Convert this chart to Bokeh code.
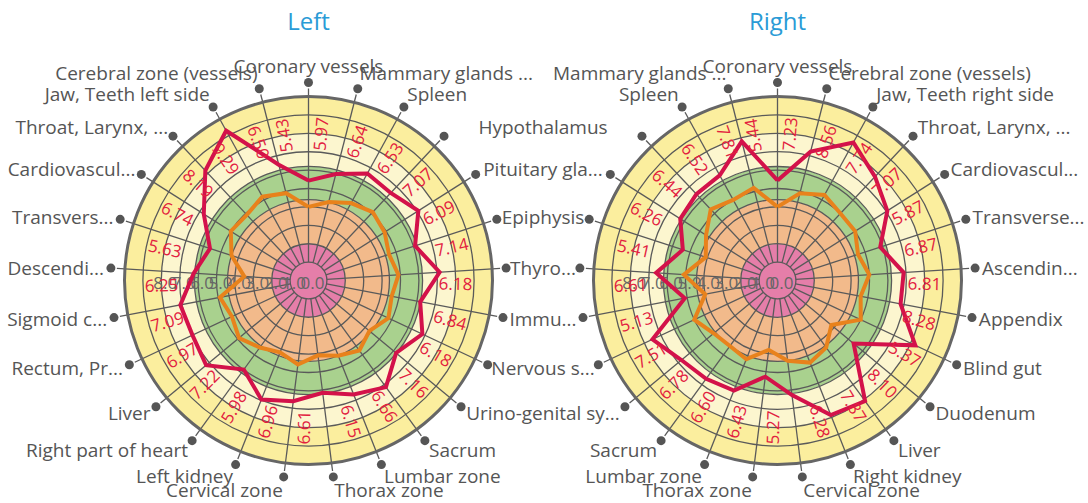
import math
from bokeh.plotting import figure
from bokeh.models import Range1d
from bokeh.embed import file_html
from bokeh.resources import INLINE
from bokeh.core.properties import value

# ---------------- data ----------------
left_title = "Left"
right_title = "Right"

left_categories = ["Coronary vessels", "Mammary glands ...", "Spleen", "Hypothalamus",
                   "Pituitary gla...", "Epiphysis", "Thyro...", "Immu...", "Nervous s...",
                   "Urino-genital sy...", "Sacrum", "Lumbar zone", "Thorax zone",
                   "Cervical zone", "Left kidney", "Right part of heart", "Liver",
                   "Rectum, Pr...", "Sigmoid c...", "Descendi...", "Transvers...",
                   "Cardiovascul...", "Throat, Larynx, ...", "Jaw, Teeth left side",
                   "Cerebral zone (vessels)"]
left_values = [5.43, 5.97, 6.64, 6.53, 7.07, 6.09, 7.14, 6.18, 6.84, 6.18, 7.16, 6.66, 6.15,
               6.61, 6.96, 5.98, 7.22, 6.97, 7.09, 6.25, 5.63, 6.74, 8.19, 9.29, 6.50]
left_norm = [4.0, 4.4, 4.8, 5.1, 4.9, 4.6, 4.9, 4.6, 4.8, 4.3, 4.7, 4.4, 4.1,
             4.6, 4.2, 4.5, 4.9, 4.6, 4.9, 3.5, 4.4, 5.0, 4.9, 5.2, 4.9]

right_categories = ["Coronary vessels", "Cerebral zone (vessels)", "Jaw, Teeth right side",
                    "Throat, Larynx, ...", "Cardiovascul...", "Transverse...", "Ascendin...",
                    "Appendix", "Blind gut", "Duodenum", "Liver", "Right kidney",
                    "Cervical zone", "Thorax zone", "Lumbar zone", "Sacrum",
                    "Urino-genital sy...", "Nervous s...", "Immu...", "Thyro...", "Epiphysis",
                    "Pituitary gla...", "Hypothalamus", "Spleen", "Mammary glands ..."]
right_values = [5.44, 7.23, 8.56, 7.74, 7.07, 5.87, 6.87, 6.81, 8.28, 5.37, 8.10, 7.87, 6.28,
                5.27, 6.43, 6.60, 6.78, 7.51, 5.13, 6.61, 5.41, 6.26, 6.44, 6.52, 7.81]
right_norm = [4.0, 4.9, 5.3, 5.0, 5.0, 4.6, 5.0, 4.6, 5.0, 3.8, 4.5, 4.8, 4.4,
              3.8, 4.6, 4.4, 4.5, 5.0, 4.0, 5.1, 4.1, 4.6, 5.3, 5.0, 5.2]

axis_ticks = [0, 1, 2, 3, 4, 5, 6, 7, 8]
axis_max = 10
band_edges = [0, 2.0, 4.4, 6.2, 8.0, 10]
band_colors = ["#e57ea9", "#f2ba8b", "#a9d18e", "#fcf6cf", "#fbee9e"]

# ---------------- layout ----------------
W, H = 1088, 503
R = 184.0
centers = [(308.0, 280.0), (777.0, 280.0)]

GRID = "#5a5a5a"
TXT = "#555555"
RED = "#d3124a"
RED_TXT = "#e2203f"
ORANGE = "#e8821c"
BLUE = "#2a9bd6"
FONT = value("Open Sans")
CAT_SIZE = "19px"

p = figure(width=W, height=H, x_range=Range1d(0, W), y_range=Range1d(0, H),
           output_backend="svg", toolbar_location=None, min_border=0)
p.axis.visible = False
p.grid.visible = False
p.outline_line_color = None
p.background_fill_color = "white"


def Y(sy):
    return H - sy


def polar(cx, cy, r, beta_deg):
    b = math.radians(beta_deg)
    return cx + r * math.sin(b), cy - r * math.cos(b)


def rad(v):
    return R * v / axis_max


charts = [(left_title, left_categories, left_values, left_norm),
          (right_title, right_categories, right_values, right_norm)]

label_anchor = {}
for ci, (title, cats, vals, norm) in enumerate(charts):
    cx, cy = centers[ci]
    n = len(cats)
    step = 360.0 / n
    betas = [i * step for i in range(n)]

    # bands
    for k in range(len(band_colors)):
        p.annulus(x=[cx], y=[Y(cy)], inner_radius=rad(band_edges[k]),
                  outer_radius=rad(band_edges[k + 1]), fill_color=band_colors[k],
                  line_color=None)
    # grid circles
    rings = sorted(set([t for t in range(1, axis_max)] + band_edges[1:-1]))
    p.circle(x=[cx] * len(rings), y=[Y(cy)] * len(rings), radius=[rad(v) for v in rings],
             fill_color=None, line_color=GRID, line_width=1.3)
    # spokes
    xs0, ys0, xs1, ys1 = [], [], [], []
    for b in betas:
        x0, y0 = polar(cx, cy, rad(1), b)
        x1, y1 = polar(cx, cy, R + 8, b)
        xs0.append(x0); ys0.append(Y(y0)); xs1.append(x1); ys1.append(Y(y1))
    p.segment(x0=xs0, y0=ys0, x1=xs1, y1=ys1, line_color=GRID, line_width=1.3)
    # outer circle
    p.circle(x=[cx], y=[Y(cy)], radius=[R], fill_color=None, line_color="#666666",
             line_width=3)

    # axis value labels
    tx = [cx - rad(t) + 4 for t in axis_ticks]
    p.text(x=tx, y=[Y(cy + 2)] * len(axis_ticks), text=["%.1f" % t for t in axis_ticks],
           text_align="center", text_baseline="middle", text_font=FONT,
           text_font_size="17px", text_color="#666666")

    # series lines
    for series, color in ((norm, ORANGE), (vals, RED)):
        px, py = [], []
        for v, b in zip(series, betas):
            x, y = polar(cx, cy, rad(v), b)
            px.append(x); py.append(Y(y))
        px.append(px[0]); py.append(py[0])
        p.line(px, py, line_color=color, line_width=4, line_join="miter")

    # value labels (rotated, along spokes)
    lx, ly, la, lt = [], [], [], []
    for v, b in zip(vals, betas):
        right_half = math.sin(math.radians(b)) > -1e-9
        bl = b - (9.5 if right_half else 5.5)
        x, y = polar(cx, cy, 147, bl)
        phi = 90 - bl
        ang = phi if right_half else phi + 180
        lx.append(x); ly.append(Y(y)); la.append(math.radians(ang)); lt.append("%.2f" % v)
    p.text(x=lx, y=ly, text=lt, angle=la, text_align="center", text_baseline="middle",
           text_font=FONT, text_font_size="17px", text_color=RED_TXT)

    # dots
    dx, dy = [], []
    for b in betas:
        x, y = polar(cx, cy, 198, b)
        dx.append(x); dy.append(Y(y))
    p.scatter(x=dx, y=dy, size=9, fill_color="#555555", line_color=None)

    # category label anchors
    for name, b in zip(cats, betas):
        s, c = math.sin(math.radians(b)), math.cos(math.radians(b))
        x, y = polar(cx, cy, 205, b)
        y = y - (10 if c > 0 else 6) * c ** 3
        if abs(s) < 1e-6:
            align = "center"
        elif s > 0:
            align = "left"
        else:
            align = "right"
        label_anchor[(ci, name)] = (x, y, align)

    # title
    p.text(x=[cx], y=[Y(20)], text=[title], text_align="center", text_baseline="middle",
           text_font=FONT, text_font_size="24px", text_color=BLUE)

# category labels: labels shared between the two charts are drawn once, centred
shared = set()
for name in left_categories:
    a = label_anchor.get((0, name))
    b = label_anchor.get((1, name))
    if a and b and a[2] == "left" and b[2] == "right" and abs(a[1] - b[1]) < 8 \
            and 0 < b[0] - a[0] < 200:
        shared.add(name)
        p.text(x=[(a[0] + b[0]) / 2], y=[Y((a[1] + b[1]) / 2)], text=[name],
               text_align="center", text_baseline="middle", text_font=FONT,
               text_font_size=CAT_SIZE, text_color=TXT)
for (ci, name), (x, y, align) in label_anchor.items():
    if name in shared and ((ci == 0 and align == "left") or (ci == 1 and align == "right")):
        continue
    p.text(x=[x], y=[Y(y)], text=[name], text_align=align, text_baseline="middle",
           text_font=FONT, text_font_size=CAT_SIZE, text_color=TXT)

open("out.html", "w").write(file_html(p, INLINE))
